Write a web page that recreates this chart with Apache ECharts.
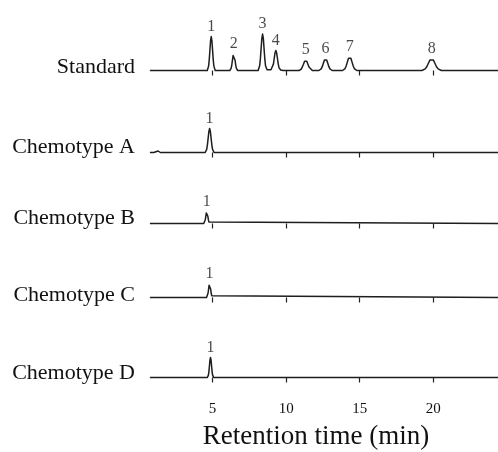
<!DOCTYPE html>
<html>
<head>
<meta charset="utf-8">
<script src="https://cdn.jsdelivr.net/npm/echarts@6/dist/echarts.min.js"></script>
<style>html,body{margin:0;padding:0;background:#fff}#c{width:498px;height:452px}</style>
</head>
<body>
<div id="c"></div>
<script>
// Row names (top to bottom)
const rowNames = ['Standard', 'Chemotype A', 'Chemotype B', 'Chemotype C', 'Chemotype D'];
// x-axis tick values (min)
const tickValues = [5, 10, 15, 20];
const axisTitle = 'Retention time (min)';

// Traces: [retention time (min), detector response (arbitrary units)]
const standardTrace = [
  [0.74,0],
  [4.64,0],[4.73,4.4],[4.775,10.9],[4.82,20.4],[4.865,30],[4.91,34],[4.955,30],[5.0,20.4],[5.045,10.9],[5.09,4.4],[5.18,0],
  [6.17,0],[6.26,2.2],[6.305,5.4],[6.35,10.2],[6.395,15],[6.44,17],[6.485,15],[6.53,10.2],[6.575,5.4],[6.62,2.2],[6.71,0],
  [8.10,0],[8.20,4.7],[8.25,11.7],[8.30,21.9],[8.35,32.1],[8.40,36.5],[8.45,32.1],[8.50,21.9],[8.55,11.7],[8.60,4.7],[8.70,0.8],
  [8.97,0.8],[9.08,2.6],[9.135,6.4],[9.19,12],[9.245,17.6],[9.30,20],[9.355,17.6],[9.41,12],[9.465,6.4],[9.52,2.6],[9.63,0.5],[9.8,0],
  [10.88,0],[11.03,1.4],[11.105,3.4],[11.18,6.3],[11.255,9.2],[11.33,10.5],[11.405,9.2],[11.48,6.3],[11.555,3.4],[11.63,1.4],[11.78,0],
  [12.23,0],[12.38,1.6],[12.455,3.8],[12.53,7.2],[12.605,10.6],[12.68,12],[12.755,10.6],[12.83,7.2],[12.905,3.8],[12.98,1.6],[13.13,0],
  [13.84,0],[14.0,1.8],[14.08,4.5],[14.16,8.4],[14.24,12.3],[14.32,14],[14.40,12.3],[14.48,8.4],[14.56,4.5],[14.64,1.8],[14.80,0],
  [19.23,0],[19.45,1.6],[19.56,3.8],[19.67,7.2],[19.78,10.6],[19.89,12],[20.0,10.6],[20.11,7.2],[20.22,3.8],[20.33,1.6],[20.55,0],
  [24.4,0]
];
const chemoATrace = [
  [0.74,0],[1.0,0],[1.12,1.5],[1.3,1.5],[1.45,0],
  [4.5,0],[4.6,3.1],[4.65,7.7],[4.7,14.4],[4.75,21.1],[4.8,24],[4.85,21.1],[4.9,14.4],[4.95,7.7],[5.0,3.1],[5.1,0],
  [24.4,0]
];
const chemoBTrace = [
  [0.74,0],
  [4.4,0],[4.47,1.6],[4.505,3.8],[4.54,7.2],[4.575,10.6],[4.61,12],[4.645,10.6],[4.68,7.2],[4.715,3.8],[4.75,1.6],[4.82,0],
  [24.4,0]
];
const chemoCTrace = [
  [0.74,0],
  [4.59,0],[4.66,1.8],[4.695,4.5],[4.73,8.4],[4.765,12.3],[4.8,14],[4.835,12.3],[4.87,8.4],[4.905,4.5],[4.94,1.8],[5.01,0],
  [24.4,0]
];
const chemoDTrace = [
  [0.74,0],
  [4.65,0],[4.72,2.6],[4.755,6.4],[4.79,12],[4.825,17.6],[4.86,20],[4.895,17.6],[4.93,12],[4.965,6.4],[5.0,2.6],[5.07,0],
  [24.4,0]
];
// Peak labels: [time, apex height, label]
const standardPeaks = [[4.91,34,'1'],[6.44,17,'2'],[8.40,36.5,'3'],[9.30,20,'4'],[11.33,10.5,'5'],[12.68,12,'6'],[14.32,14,'7'],[19.89,12,'8']];
const chemoAPeaks = [[4.8,24,'1']];
const chemoBPeaks = [[4.61,12,'1']];
const chemoCPeaks = [[4.8,14,'1']];
const chemoDPeaks = [[4.86,20,'1']];

const traces = [standardTrace, chemoATrace, chemoBTrace, chemoCTrace, chemoDTrace];
const peaks = [standardPeaks, chemoAPeaks, chemoBPeaks, chemoCPeaks, chemoDPeaks];

// layout
const baselines = [70.5, 152.5, 223.5, 297.5, 377.5];
const labelY = [67, 147, 218, 295, 373];
const GH = 40;
const serif = '"Liberation Serif", "DejaVu Serif", serif';

const grids = [], xAxes = [], yAxes = [], series = [], graphics = [];
baselines.forEach((b, i) => {
  grids.push({ left: 139, width: 361, top: b - GH, height: GH });
  const last = i === baselines.length - 1;
  xAxes.push({
    type: 'value', gridIndex: i, min: 0, max: 24.4, offset: 11,
    axisLine: { show: false },
    splitLine: { show: false },
    axisTick: { show: true, length: 5, customValues: tickValues, lineStyle: { color: '#222', width: 1.2 } },
    axisLabel: { show: last, customValues: tickValues, margin: 13, fontFamily: serif, fontSize: 15, color: '#111' }
  });
  yAxes.push({ type: 'value', gridIndex: i, min: 0, max: GH, show: false });
  series.push({
    type: 'line', xAxisIndex: i, yAxisIndex: i, data: traces[i],
    showSymbol: false, symbol: 'none', clip: false, smooth: false,
    lineStyle: { color: '#1e1e1e', width: 1.5, join: 'round' }, silent: true
  });
  series.push({
    type: 'scatter', xAxisIndex: i, yAxisIndex: i, data: peaks[i],
    symbolSize: 0, silent: true,
    label: { show: true, position: 'top', distance: 2, formatter: p => p.data[2], fontFamily: serif, fontSize: 16, color: '#1a1a1a' }
  });
  graphics.push({
    type: 'text', x: 135, y: labelY[i],
    style: { text: rowNames[i], textAlign: 'right', textVerticalAlign: 'middle', font: '22px ' + serif, fill: '#111' }
  });
});
graphics.push({
  type: 'text', x: 316, y: 437,
  style: { text: axisTitle, textAlign: 'center', textVerticalAlign: 'middle', font: '27px ' + serif, fill: '#111' }
});

const chart = echarts.init(document.getElementById('c'), null, { renderer: 'canvas' });
chart.setOption({
  animation: false,
  backgroundColor: '#fff',
  grid: grids, xAxis: xAxes, yAxis: yAxes, series: series, graphic: graphics
});
</script>
</body>
</html>
